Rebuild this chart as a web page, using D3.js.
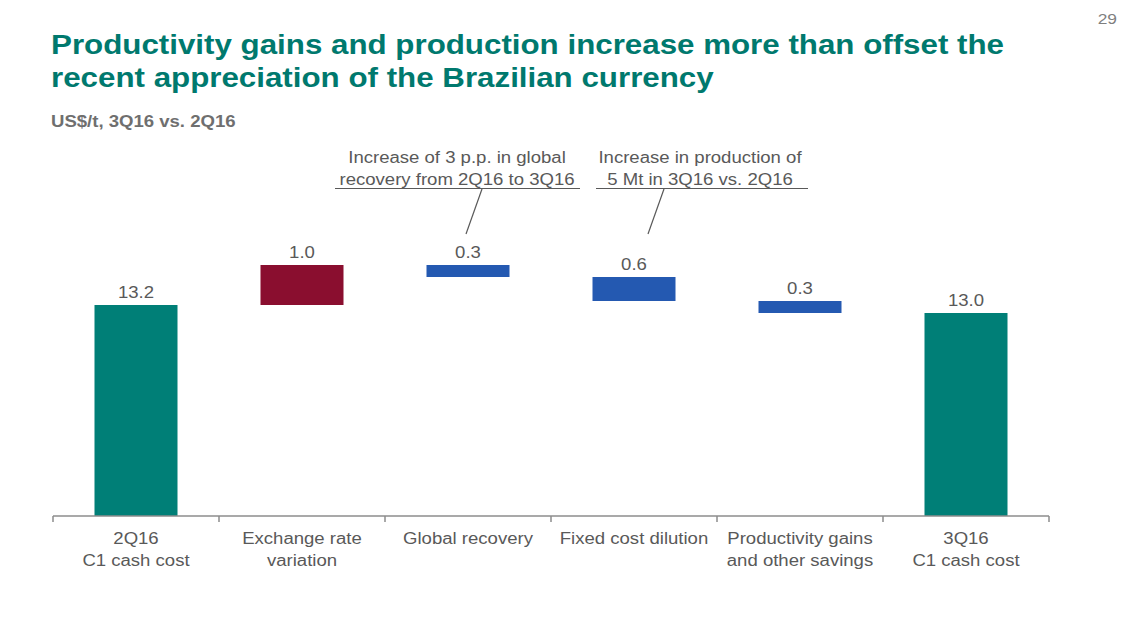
<!DOCTYPE html>
<html><head><meta charset="utf-8">
<script src="https://cdn.jsdelivr.net/npm/d3@7"></script>
<style>body{margin:0;background:#fff;} svg{display:block;font-family:"Liberation Sans",Arial,sans-serif;}</style>
</head><body>
<svg id="c" width="1128" height="635"></svg>
<script>
const categories = [["2Q16","C1 cash cost"],["Exchange rate","variation"],["Global recovery"],["Fixed cost dilution"],["Productivity gains","and other savings"],["3Q16","C1 cash cost"]];
const values = [13.2, 1.0, -0.3, -0.6, -0.3, 13.0];
const types = ["total","increase","decrease","decrease","decrease","total"];
const valueLabels = ["13.2","1.0","0.3","0.6","0.3","13.0"];
const colors = {total:"#007F77", increase:"#8A0E2F", decrease:"#2459B1"};
const SX = 1.16; // horizontal stretch of the reference's type

const svg = d3.select("#c");
const x = d3.scaleBand().domain(d3.range(categories.length)).range([53,1049]).paddingInner(0.5).paddingOuter(0.25);
const y = d3.scaleLinear().domain([7.925,14.5]).range([516,253]);

function addText(parent, px, py, lines, o){
  const t = parent.append("text").attr("transform",`translate(${px},${py}) scale(${SX},1)`)
    .attr("text-anchor",o.anchor||"middle").attr("fill",o.fill||"#595959")
    .attr("font-size",o.size||16).attr("font-weight",o.weight||"normal");
  lines.forEach((l,j)=>t.append("tspan").attr("x",0).attr("y",j*(o.lh||22)).text(l));
  return t;
}

let run = 0;
const spans = values.map((v,i)=>{
  if(types[i]==="total"){ run=v; return [y.domain()[0], v]; }
  const s=run; run=run+v; return [Math.min(s,run), Math.max(s,run)];
});

// titles
addText(svg,1117,24,["29"],{anchor:"end",fill:"#7f7f7f",size:15});
addText(svg,51,54,["Productivity gains and production increase more than offset the","recent appreciation of the Brazilian currency"],{anchor:"start",fill:"#00796E",size:27,weight:"bold",lh:33});
addText(svg,51,127,["US$/t, 3Q16 vs. 2Q16"],{anchor:"start",fill:"#6f6f6f",size:16,weight:"bold"});

// bars
svg.selectAll("rect.bar").data(values).join("rect").attr("class","bar")
  .attr("x",(d,i)=>x(i)).attr("width",x.bandwidth())
  .attr("y",(d,i)=>y(spans[i][1])).attr("height",(d,i)=>y(spans[i][0])-y(spans[i][1]))
  .attr("fill",(d,i)=>colors[types[i]]);

valueLabels.forEach((d,i)=>addText(svg, x(i)+x.bandwidth()/2, y(spans[i][1])-7, [d], {size:16}));

// axis
const ax = svg.append("g").attr("transform","translate(0,516)");
ax.append("line").attr("x1",53).attr("x2",1049).attr("stroke","#8c8c8c").attr("stroke-width",1.5);
const step = x.step();
d3.range(categories.length+1).forEach(i=>{
  const xx = 53 + i*step;
  ax.append("line").attr("x1",xx).attr("x2",xx).attr("y1",0).attr("y2",6).attr("stroke","#8c8c8c").attr("stroke-width",1.5);
});
categories.forEach((lines,i)=>addText(ax, x(i)+x.bandwidth()/2, 28, lines, {size:16}));

// annotations
const notes = [
  {lines:["Increase of 3 p.p. in global","recovery from 2Q16 to 3Q16"], cx:457, x1:335, x2:580, lx:482},
  {lines:["Increase in production of","5 Mt in 3Q16 vs. 2Q16"], cx:700, x1:596, x2:808, lx:664}
];
notes.forEach(n=>{
  addText(svg, n.cx, 163, n.lines, {size:16});
  svg.append("line").attr("x1",n.x1).attr("x2",n.x2).attr("y1",188.5).attr("y2",188.5).attr("stroke","#595959").attr("stroke-width",1.2);
  svg.append("line").attr("x1",n.lx).attr("y1",189).attr("x2",n.lx-16).attr("y2",234).attr("stroke","#595959").attr("stroke-width",1.2);
});
</script>
</body></html>
